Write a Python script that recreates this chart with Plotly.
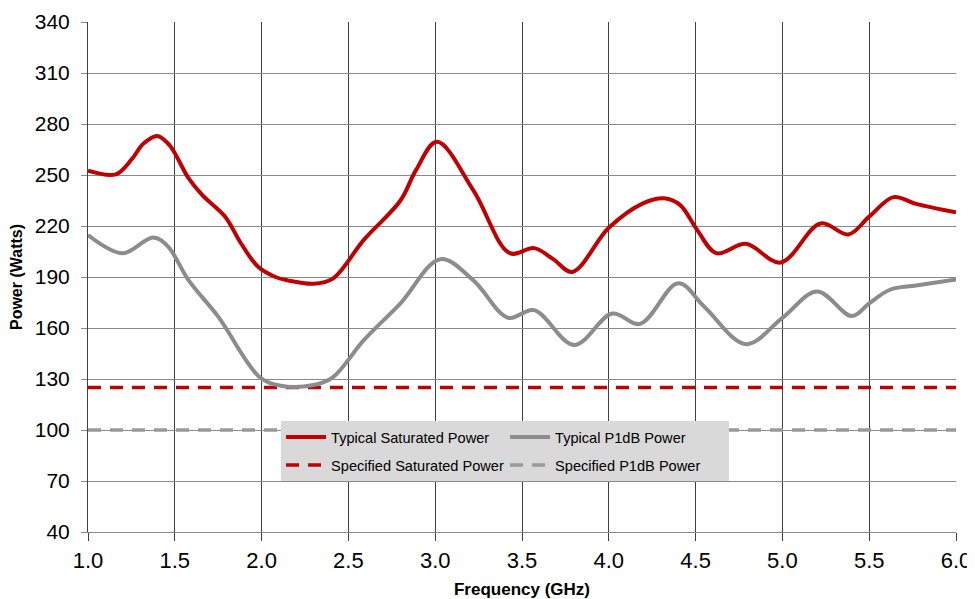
import plotly.graph_objects as go

# ---- data ----
sat_freq = [1.0, 1.16, 1.25, 1.32, 1.40, 1.47, 1.58, 1.66, 1.79, 1.88, 1.98, 2.08, 2.15,
            2.30, 2.41, 2.59, 2.80, 2.89, 3.01, 3.22, 3.43, 3.57, 3.68, 3.79, 4.0, 4.20,
            4.32, 4.41, 4.51, 4.62, 4.79, 4.99, 5.22, 5.38, 5.50, 5.64, 5.77, 6.0]
sat_power = [252.5, 250.4, 259, 268.5, 273, 267.5, 248, 238, 225.5, 210, 196, 190, 188,
             186, 189, 212, 235, 253, 269.5, 241, 204, 207, 200.5, 193, 219, 233.5,
             236.3, 232.4, 217.5, 204, 209.5, 198.5, 221.5, 215, 225.5, 237, 233, 228]

p1db_freq = [1.0, 1.20, 1.375, 1.46, 1.58, 1.75, 1.99, 2.11, 2.30, 2.41, 2.59, 2.80, 3.03,
             3.22, 3.42, 3.57, 3.80, 4.02, 4.18, 4.40, 4.55, 4.79, 5.0, 5.20, 5.40, 5.50,
             5.62, 5.77, 6.0]
p1db_power = [214.7, 204, 213.3, 208, 188, 166.7, 131, 126, 126.5, 131, 153, 174.5, 200.5,
              188, 166, 170.5, 150, 168.5, 162.4, 186.3, 172.5, 150.5, 166, 181.5, 167, 174.5,
              182.5, 185, 188.5]

spec_freq = [1.0, 6.0]
spec_sat = [125, 125]
spec_p1db = [100, 100]

x_ticks = [1.0, 1.5, 2.0, 2.5, 3.0, 3.5, 4.0, 4.5, 5.0, 5.5, 6.0]
y_ticks = [40, 70, 100, 130, 160, 190, 220, 250, 280, 310, 340]

RED = "#c00000"
GRAY = "#8c8c8c"
FONT = "Liberation Sans, Arial, sans-serif"

fig = go.Figure()
fig.add_trace(go.Scatter(x=spec_freq, y=spec_p1db, mode="lines", name="Specified P1dB Power",
                         line=dict(color="#999999", width=3.5, dash="13px,9px"), legend="legend2"))
fig.add_trace(go.Scatter(x=spec_freq, y=spec_sat, mode="lines", name="Specified Saturated Power",
                         line=dict(color=RED, width=3.5, dash="13px,9px"), legend="legend2"))
fig.add_trace(go.Scatter(x=p1db_freq, y=p1db_power, mode="lines", name="Typical P1dB Power",
                         line=dict(color=GRAY, width=4, shape="spline", smoothing=1.0), legend="legend"))
fig.add_trace(go.Scatter(x=sat_freq, y=sat_power, mode="lines", name="Typical Saturated Power",
                         line=dict(color=RED, width=4, shape="spline", smoothing=1.0), legend="legend"))

legend_common = dict(orientation="h", xanchor="left", yanchor="top", bgcolor="#d9d9d9",
                     borderwidth=0, font=dict(family=FONT, size=14.6, color="#000"),
                     entrywidth=169, itemwidth=40, traceorder="reversed")

fig.update_layout(
    width=967, height=591,
    margin=dict(l=80, r=19, t=14, b=67),
    paper_bgcolor="white", plot_bgcolor="white",
    font=dict(family=FONT, color="#000"),
    legend=dict(x=0.2224, y=0.2176, **legend_common),
    legend2=dict(x=0.2224, y=0.1627, **legend_common),
    xaxis=dict(range=[1.0, 6.0], tickvals=x_ticks, tickformat=".1f", automargin=False,
               showgrid=True, gridcolor="#404040", gridwidth=1,
               showline=True, linecolor="#8a8a8a", linewidth=1.3,
               ticks="outside", ticklen=8, tickcolor="#404040",
               tickfont=dict(size=22, family=FONT),
               title=dict(text="<b>Frequency (GHz)</b>", font=dict(size=17, family=FONT), standoff=13),
               zeroline=False),
    yaxis=dict(range=[40, 340], tickvals=y_ticks, automargin=False,
               showgrid=True, gridcolor="#8a8a8a", gridwidth=1.3,
               showline=True, linecolor="#404040", linewidth=1,
               ticks="outside", ticklen=6, tickcolor="#8a8a8a",
               ticklabelstandoff=7,
               tickfont=dict(size=21, family=FONT),
               title=dict(text="<b>Power (Watts)</b>", font=dict(size=16, family=FONT), standoff=10),
               zeroline=False),
)

fig.write_html("out.html")
